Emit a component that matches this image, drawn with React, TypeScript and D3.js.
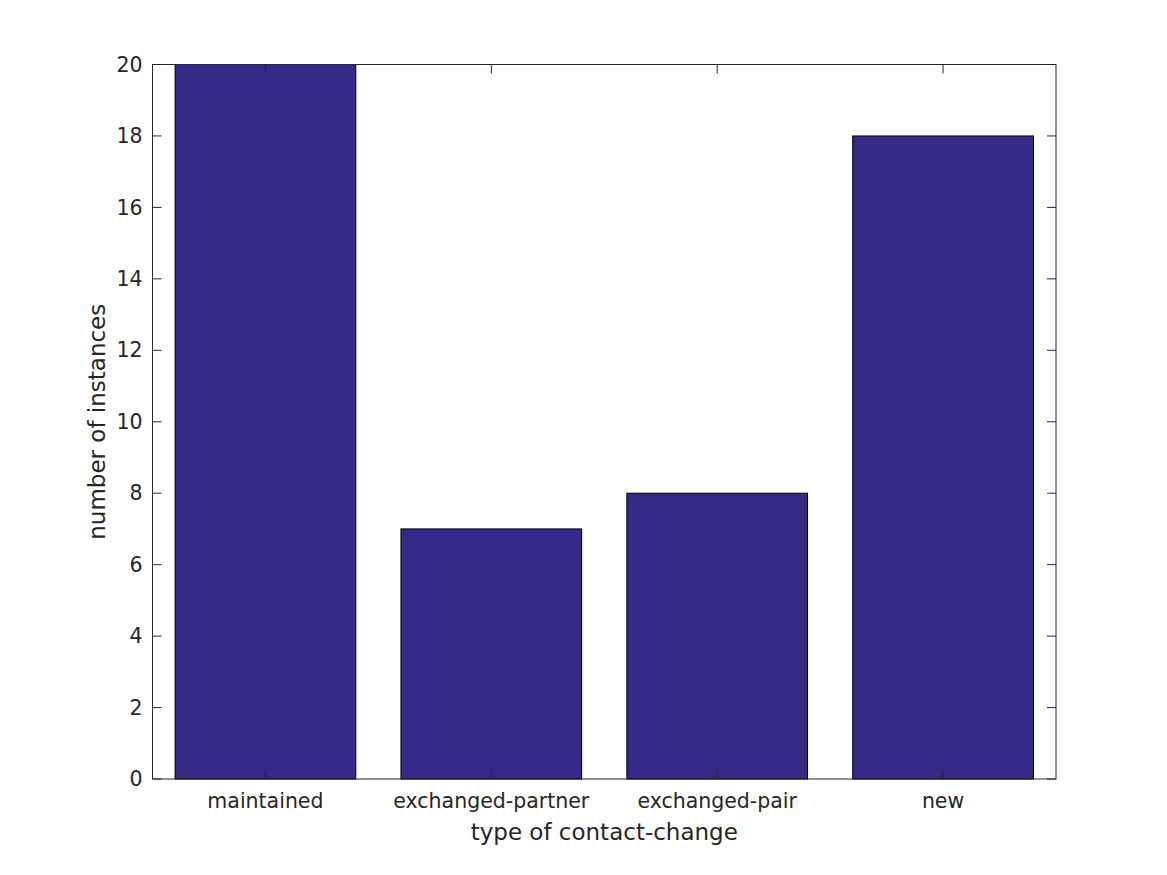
import React from "react";
import * as d3 from "d3";

const categories = ["maintained", "exchanged-partner", "exchanged-pair", "new"];
const values = [20, 7, 8, 18];
const yTicks = [0, 2, 4, 6, 8, 10, 12, 14, 16, 18, 20];

export default function App() {
  const W = 1167, H = 875;
  const L = 152.5, R = 1056, T = 64.5, B = 779;
  const x = d3.scaleLinear().domain([0.5, categories.length + 0.5]).range([L, R]);
  const y = d3.scaleLinear().domain([0, 20]).range([B, T]);
  const axisColor = "#262626";
  const font = "DejaVu Sans, sans-serif";
  const tl = 9;
  return (
    <div style={{ position: "absolute", left: 0, top: 0 }}>
      <svg width={W} height={H} style={{ display: "block", background: "#fff" }}>
        {values.map((v, i) => (
          <rect
            key={i}
            x={x(i + 1 - 0.4)}
            y={y(v)}
            width={x(i + 1 + 0.4) - x(i + 1 - 0.4)}
            height={y(0) - y(v)}
            fill="#352a87"
            stroke="#000"
            strokeWidth={1}
          />
        ))}
        <rect x={L} y={T} width={R - L} height={B - T} fill="none" stroke={axisColor} strokeWidth={1} />
        {yTicks.map((t) => (
          <g key={t}>
            <line x1={L} x2={L + tl} y1={y(t)} y2={y(t)} stroke={axisColor} />
            <line x1={R} x2={R - tl} y1={y(t)} y2={y(t)} stroke={axisColor} />
            <text x={L - 10} y={y(t)} dy="0.35em" textAnchor="end" fontFamily={font} fontSize={20.5} fill={axisColor}>
              {t}
            </text>
          </g>
        ))}
        {categories.map((c, i) => (
          <g key={c}>
            <line x1={x(i + 1)} x2={x(i + 1)} y1={B} y2={B - tl} stroke={axisColor} />
            <line x1={x(i + 1)} x2={x(i + 1)} y1={T} y2={T + tl} stroke={axisColor} />
            <text x={x(i + 1)} y={B + 22} dy="0.35em" textAnchor="middle" fontFamily={font} fontSize={20.5} fill={axisColor}>
              {c}
            </text>
          </g>
        ))}
        <text x={(L + R) / 2} y={832} dy="0.35em" textAnchor="middle" fontFamily={font} fontSize={23} fill={axisColor}>
          type of contact-change
        </text>
        <text
          transform={`translate(97,${(T + B) / 2}) rotate(-90)`}
          dy="0.35em"
          textAnchor="middle"
          fontFamily={font}
          fontSize={23}
          fill={axisColor}
        >
          number of instances
        </text>
      </svg>
    </div>
  );
}
